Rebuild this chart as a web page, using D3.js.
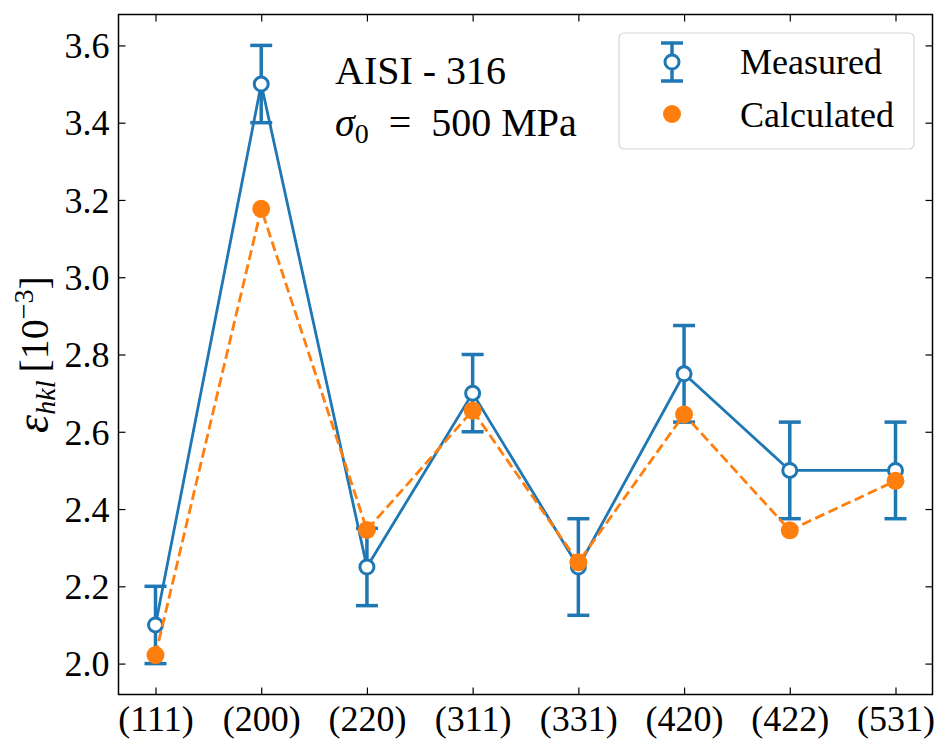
<!DOCTYPE html>
<html>
<head>
<meta charset="utf-8">
<script src="https://cdn.jsdelivr.net/npm/d3@7"></script>
<style>
  body { margin: 0; background: #fff; }
  svg text { font-family: "Liberation Serif", "DejaVu Serif", serif; fill: #000; }
</style>
</head>
<body>
<div id="chart"></div>
<script>
// reflections and strain values (10^-3)
const reflections = ['(111)', '(200)', '(220)', '(311)', '(331)', '(420)', '(422)', '(531)'];
const measured    = [2.10, 3.50, 2.25, 2.70, 2.25, 2.75, 2.50, 2.50];
const measuredErr = [0.10, 0.10, 0.10, 0.10, 0.125, 0.125, 0.125, 0.125];
const calculated  = [2.022, 3.177, 2.346, 2.655, 2.262, 2.645, 2.345, 2.473];
const yTicks      = [2.0, 2.2, 2.4, 2.6, 2.8, 3.0, 3.2, 3.4, 3.6];

const W = 950, H = 755;
const m = { left: 118.5, right: 17.5, top: 14.5, bottom: 60.5 };
const BLUE = '#1f77b4', ORANGE = '#ff7f0e';
const FS = 36;

const svg = d3.select('#chart').append('svg').attr('width', W).attr('height', H);

const x = d3.scaleLinear().domain([-0.35, 7.35]).range([m.left, W - m.right]);
const y = d3.scaleLinear().domain([1.92, 3.68]).range([H - m.bottom, m.top]);

const idx = d3.range(reflections.length);

// axes, ticks pointing inward on all four sides
const tickLen = 7;
svg.append('g').attr('transform', `translate(0,${H - m.bottom})`)
  .call(d3.axisBottom(x).tickValues(idx).tickFormat(i => reflections[i]).tickSize(-tickLen).tickPadding(11))
  .call(g => g.selectAll('text').attr('font-size', FS));
svg.append('g').attr('transform', `translate(0,${m.top})`)
  .call(d3.axisTop(x).tickValues(idx).tickFormat('').tickSize(-tickLen));
svg.append('g').attr('transform', `translate(${m.left},0)`)
  .call(d3.axisLeft(y).tickValues(yTicks).tickFormat(d3.format('.1f')).tickSize(-tickLen).tickPadding(9))
  .call(g => g.selectAll('text').attr('font-size', FS).attr('dy', '0.34em'));
svg.append('g').attr('transform', `translate(${W - m.right},0)`)
  .call(d3.axisRight(y).tickValues(yTicks).tickFormat('').tickSize(-tickLen));

svg.selectAll('.domain').remove();
svg.selectAll('.tick line').attr('stroke', '#000').attr('stroke-width', 1.2);
svg.append('rect')
  .attr('x', m.left).attr('y', m.top)
  .attr('width', W - m.left - m.right).attr('height', H - m.top - m.bottom)
  .attr('fill', 'none').attr('stroke', '#000').attr('stroke-width', 1.5);

// y label
const YFS = 40;
const yl = svg.append('text')
  .attr('transform', `translate(48,${(m.top + H - m.bottom) / 2}) rotate(-90)`)
  .attr('text-anchor', 'middle').attr('font-size', YFS);
yl.append('tspan').attr('font-style', 'italic').attr('font-size', YFS * 1.15).text('ε');
yl.append('tspan').attr('font-style', 'italic').attr('font-size', YFS * 0.7).attr('dy', 7).text('hkl');
yl.append('tspan').attr('dy', -7).text('\u2009[10');
yl.append('tspan').attr('font-size', YFS * 0.7).attr('dy', -15).text('−3');
yl.append('tspan').attr('dy', 15).text(']');

// measured: line + error bars + open markers
const line = d3.line().x((d, i) => x(i)).y(d => y(d));
svg.append('path').datum(measured).attr('d', line)
  .attr('fill', 'none').attr('stroke', BLUE).attr('stroke-width', 2.8);

const eb = svg.append('g').attr('stroke', BLUE).attr('stroke-width', 3.5);
eb.selectAll('line.bar').data(idx).join('line')
  .attr('x1', i => x(i)).attr('x2', i => x(i))
  .attr('y1', i => y(measured[i] - measuredErr[i])).attr('y2', i => y(measured[i] + measuredErr[i]));
[-1, 1].forEach(s => {
  eb.selectAll(`line.cap${s}`).data(idx).join('line')
    .attr('x1', i => x(i) - 11).attr('x2', i => x(i) + 11)
    .attr('y1', i => y(measured[i] + s * measuredErr[i]))
    .attr('y2', i => y(measured[i] + s * measuredErr[i]));
});
svg.append('g').selectAll('circle').data(measured).join('circle')
  .attr('cx', (d, i) => x(i)).attr('cy', d => y(d)).attr('r', 7)
  .attr('fill', '#fff').attr('stroke', BLUE).attr('stroke-width', 3);

// calculated: dashed line + filled dots
svg.append('path').datum(calculated).attr('d', line)
  .attr('fill', 'none').attr('stroke', ORANGE).attr('stroke-width', 2.8)
  .attr('stroke-dasharray', '10,4.5');
svg.append('g').selectAll('circle').data(calculated).join('circle')
  .attr('cx', (d, i) => x(i)).attr('cy', d => y(d)).attr('r', 9)
  .attr('fill', ORANGE);

// annotation
const AFS = 40;
svg.append('text').attr('x', 335).attr('y', 84).attr('font-size', AFS).text('AISI - 316');
const ann = svg.append('text').attr('x', 335).attr('y', 136).attr('font-size', AFS);
ann.append('tspan').attr('font-style', 'italic').text('σ');
ann.append('tspan').attr('font-size', AFS * 0.7).attr('dy', 7).text('0');
ann.append('tspan').attr('dy', -7).text('\u2002=\u2002500 MPa');

// legend
const lg = svg.append('g');
lg.append('rect').attr('x', 619).attr('y', 33).attr('width', 295).attr('height', 116)
  .attr('rx', 5).attr('fill', '#fff').attr('stroke', '#d6d6d6').attr('stroke-width', 1.2);
const lx = 672;
lg.append('line').attr('x1', lx).attr('x2', lx).attr('y1', 43).attr('y2', 81)
  .attr('stroke', BLUE).attr('stroke-width', 3.5);
[43, 81].forEach(yy => lg.append('line').attr('x1', lx - 11).attr('x2', lx + 11)
  .attr('y1', yy).attr('y2', yy).attr('stroke', BLUE).attr('stroke-width', 3.5));
lg.append('circle').attr('cx', lx).attr('cy', 62).attr('r', 7)
  .attr('fill', '#fff').attr('stroke', BLUE).attr('stroke-width', 3);
lg.append('circle').attr('cx', lx).attr('cy', 114).attr('r', 9).attr('fill', ORANGE);
lg.append('text').attr('x', 740).attr('y', 74).attr('font-size', FS).text('Measured');
lg.append('text').attr('x', 740).attr('y', 127).attr('font-size', FS).text('Calculated');
</script>
</body>
</html>
